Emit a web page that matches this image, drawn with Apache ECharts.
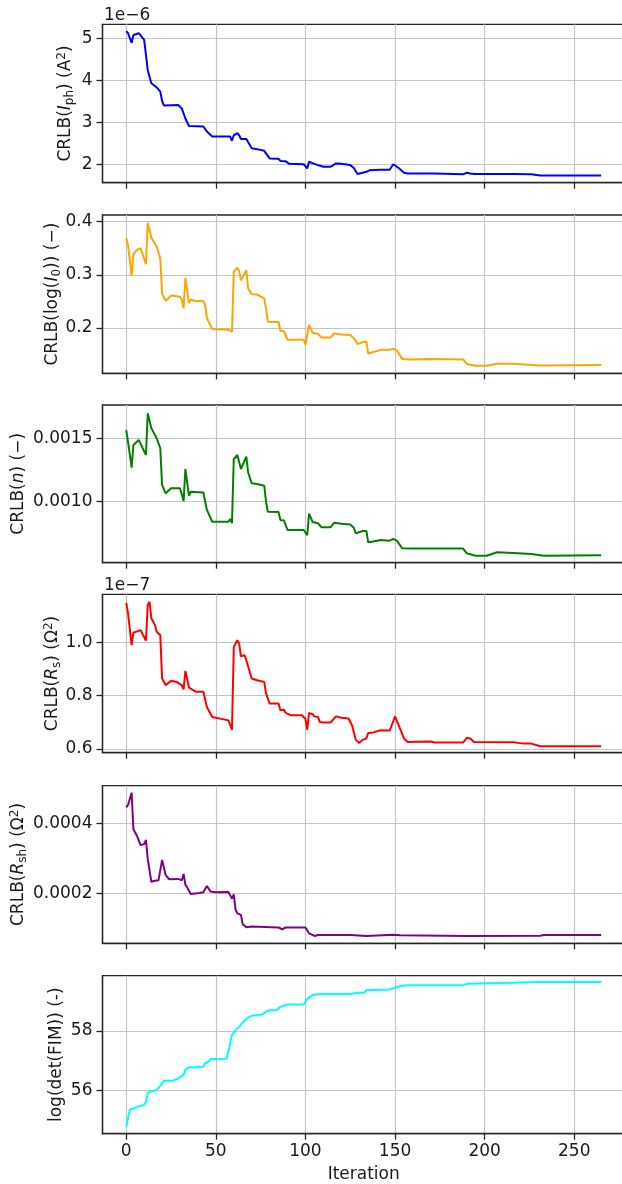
<!DOCTYPE html>
<html>
<head>
<meta charset="utf-8">
<script src="https://cdn.jsdelivr.net/npm/echarts@6/dist/echarts.min.js"></script>
<style>
  html, body { margin: 0; padding: 0; background: #ffffff; }
  #chart { width: 622px; height: 1184px; }
</style>
</head>
<body>
<div id="chart"></div>
<script>
// Shared iteration axis
const iterTicks = [0, 50, 100, 150, 200, 250];
const iterRange = [-13.25, 278.25];

// CRLB(I_ph), plotted in units of 1e-6 A^2
const iphIter = [0, 1, 3, 4, 7, 8, 10, 12, 14, 17, 19, 20, 21, 29, 31, 33, 35, 43, 45, 48, 58, 59, 60, 61, 62, 63, 64, 67, 70, 73, 77, 80, 85, 86, 89, 91, 99, 101, 102, 105, 107, 110, 114, 117, 120, 125, 127, 129, 132, 134, 136, 142, 147, 149, 150, 152, 155, 157, 172, 188, 190, 192, 194, 216, 226, 231, 265];
const iphCrlb = [5.18, 5.13, 4.90, 5.09, 5.13, 5.11, 4.97, 4.25, 3.94, 3.84, 3.74, 3.52, 3.41, 3.42, 3.34, 3.10, 2.92, 2.91, 2.79, 2.67, 2.67, 2.57, 2.70, 2.71, 2.75, 2.70, 2.61, 2.61, 2.39, 2.37, 2.33, 2.15, 2.14, 2.09, 2.08, 2.02, 2.01, 1.91, 2.07, 2.02, 1.99, 1.95, 1.95, 2.03, 2.02, 1.99, 1.92, 1.78, 1.81, 1.83, 1.87, 1.88, 1.88, 2.01, 2.03, 1.92, 1.81, 1.79, 1.79, 1.77, 1.81, 1.79, 1.78, 1.78, 1.77, 1.74, 1.74];
const iphTicks = [2, 3, 4, 5];
const iphRange = [1.571, 5.343];

// CRLB(log(I_0))
const logI0Iter = [0, 1, 3, 4, 5, 6, 8, 11, 12, 13, 14, 17, 19, 20, 21, 22, 25, 30, 31, 32, 33, 35, 36, 38, 43, 44, 45, 46, 48, 57, 58, 59, 60, 61, 62, 63, 64, 65, 67, 68, 70, 73, 77, 78, 79, 85, 86, 88, 90, 99, 100, 102, 103, 104, 107, 109, 114, 116, 120, 125, 127, 129, 132, 134, 135, 137, 142, 147, 149, 151, 154, 159, 170, 188, 190, 195, 201, 207, 216, 231, 265];
const logI0Crlb = [0.369, 0.356, 0.298, 0.339, 0.341, 0.347, 0.350, 0.320, 0.398, 0.398, 0.370, 0.353, 0.331, 0.265, 0.263, 0.251, 0.261, 0.259, 0.253, 0.237, 0.294, 0.247, 0.254, 0.251, 0.251, 0.243, 0.219, 0.218, 0.198, 0.197, 0.199, 0.193, 0.306, 0.307, 0.3135, 0.307, 0.290, 0.296, 0.309, 0.275, 0.2635, 0.263, 0.256, 0.237, 0.212, 0.2115, 0.195, 0.194, 0.178, 0.178, 0.169, 0.206, 0.205, 0.191, 0.189, 0.182, 0.182, 0.190, 0.188, 0.187, 0.181, 0.170, 0.1735, 0.1745, 0.152, 0.154, 0.159, 0.159, 0.161, 0.158, 0.142, 0.141, 0.142, 0.141, 0.1325, 0.129, 0.129, 0.133, 0.133, 0.1295, 0.1305];
const logI0Ticks = [0.2, 0.3, 0.4];
const logI0Range = [0.1149, 0.4126];

// CRLB(n)
const nIter = [0, 1, 3, 4, 5, 7, 8, 11, 12, 13, 14, 17, 19, 20, 21, 22, 25, 30, 31, 32, 33, 35, 36, 43, 45, 46, 48, 57, 58, 59, 60, 61, 62, 64, 67, 68, 70, 73, 77, 78, 79, 85, 86, 88, 90, 99, 100, 101, 102, 103, 104, 107, 109, 114, 116, 120, 125, 127, 128, 132, 134, 135, 137, 142, 147, 149, 151, 154, 159, 188, 190, 195, 201, 207, 216, 226, 233, 265];
const nCrlb = [0.001565, 0.001473, 0.001268, 0.001447, 0.001452, 0.001487, 0.001490, 0.001368, 0.001697, 0.001697, 0.001579, 0.001500, 0.001421, 0.001132, 0.001128, 0.001066, 0.001106, 0.001106, 0.001058, 0.001005, 0.001258, 0.001047, 0.001079, 0.001073, 0.000935, 0.000928, 0.000842, 0.000842, 0.000864, 0.000831, 0.001337, 0.001337, 0.001368, 0.001258, 0.001355, 0.001232, 0.001145, 0.001140, 0.001126, 0.001000, 0.000921, 0.000918, 0.000856, 0.000852, 0.000777, 0.000777, 0.000770, 0.000737, 0.000906, 0.000902, 0.000840, 0.000830, 0.000798, 0.000798, 0.000834, 0.000826, 0.000821, 0.000795, 0.000751, 0.000769, 0.000769, 0.000680, 0.000685, 0.000698, 0.000693, 0.000706, 0.000693, 0.000632, 0.000630, 0.000630, 0.000593, 0.000574, 0.000574, 0.000601, 0.000596, 0.000588, 0.000574, 0.000577];
const nTicks = [0.0010, 0.0015];
const nRange = [0.000519, 0.0017626];

// CRLB(R_s), plotted in units of 1e-7 Ohm^2
const rsIter = [0, 1, 3, 4, 5, 8, 11, 12, 13, 14, 16, 17, 19, 20, 21, 22, 25, 28, 31, 32, 33, 35, 36, 39, 43, 45, 46, 48, 57, 58, 59, 60, 61, 62, 63, 64, 66, 67, 70, 71, 73, 77, 78, 80, 85, 86, 88, 89, 92, 98, 100, 101, 102, 104, 105, 107, 108, 110, 114, 117, 120, 124, 126, 128, 130, 132, 134, 135, 138, 142, 147, 148, 150, 152, 155, 157, 170, 172, 188, 190, 192, 194, 216, 222, 226, 231, 265];
const rsCrlb = [1.147, 1.108, 0.989, 1.035, 1.035, 1.045, 1.005, 1.139, 1.151, 1.089, 1.064, 1.039, 1.026, 0.864, 0.860, 0.839, 0.855, 0.851, 0.839, 0.823, 0.892, 0.830, 0.833, 0.814, 0.814, 0.757, 0.754, 0.720, 0.707, 0.703, 0.672, 0.980, 0.995, 1.0075, 0.995, 0.947, 0.951, 0.932, 0.864, 0.868, 0.857, 0.851, 0.808, 0.770, 0.770, 0.745, 0.747, 0.735, 0.726, 0.726, 0.712, 0.672, 0.735, 0.730, 0.722, 0.720, 0.701, 0.699, 0.699, 0.722, 0.717, 0.714, 0.689, 0.635, 0.622, 0.635, 0.639, 0.660, 0.662, 0.670, 0.669, 0.672, 0.722, 0.689, 0.639, 0.626, 0.628, 0.624, 0.624, 0.642, 0.639, 0.626, 0.625, 0.620, 0.620, 0.610, 0.610];
const rsTicks = [0.6, 0.8, 1.0];
const rsRange = [0.586, 1.179];

// CRLB(R_sh)
const rshIter = [0, 1, 3, 4, 5, 6, 8, 10, 11, 12, 14, 16, 18, 19, 20, 21, 22, 24, 29, 30, 31, 32, 33, 34, 36, 41, 43, 45, 46, 47, 50, 57, 58, 59, 60, 61, 62, 64, 65, 67, 70, 71, 85, 87, 89, 100, 101, 102, 105, 107, 125, 134, 149, 153, 190, 231, 233, 265];
const rshCrlb = [0.0004455, 0.000452, 0.000487, 0.000383, 0.000378, 0.000364, 0.000338, 0.000341, 0.000353, 0.000298, 0.000234, 0.000237, 0.000238, 0.000267, 0.000296, 0.000293, 0.000253, 0.000241, 0.000242, 0.000247, 0.000238, 0.000256, 0.000225, 0.000218, 0.000199, 0.000202, 0.000204, 0.000222, 0.000221, 0.000206, 0.000204, 0.000205, 0.000207, 0.000186, 0.000198, 0.000155, 0.000144, 0.000140, 0.000113, 0.000105, 0.000107, 0.000104, 0.000104, 0.000099, 0.000104, 0.000104, 0.000103, 0.0000875, 0.000080, 0.0000827, 0.0000827, 0.000080, 0.0000835, 0.000082, 0.000080, 0.0000808, 0.0000827, 0.0000827];
const rshTicks = [0.0002, 0.0004];
const rshRange = [0.0000591, 0.0005068];

// log(det(FIM))
const fimIter = [0, 1, 2, 4, 6, 8, 10, 11, 12, 14, 17, 19, 20, 21, 26, 29, 32, 33, 35, 43, 44, 46, 47, 56, 57, 58, 59, 61, 63, 65, 66, 68, 70, 76, 78, 80, 84, 86, 90, 99, 100, 101, 104, 107, 110, 125, 129, 133, 134, 147, 150, 153, 157, 188, 190, 201, 216, 231, 265];
const fimLogDet = [54.79, 54.85, 55.37, 55.40, 55.46, 55.49, 55.52, 55.63, 55.93, 55.98, 56.02, 56.16, 56.22, 56.33, 56.33, 56.41, 56.52, 56.69, 56.78, 56.80, 56.92, 56.97, 57.06, 57.07, 57.11, 57.59, 57.87, 58.03, 58.14, 58.28, 58.35, 58.45, 58.51, 58.55, 58.65, 58.70, 58.70, 58.81, 58.89, 58.90, 58.98, 59.07, 59.21, 59.23, 59.24, 59.24, 59.28, 59.29, 59.37, 59.39, 59.45, 59.51, 59.53, 59.53, 59.58, 59.60, 59.62, 59.64, 59.64];
const fimTicks = [56, 58];
const fimRange = [54.558, 59.854];

// Panel descriptions
const FONT = 'DejaVu Sans';
const INK = '#1a1a1a';
const panels = [
  { x: iphIter, y: iphCrlb, ticks: iphTicks, range: iphRange, digits: 0, color: '#0000ff',
    name: '{b|CRLB(}{i|I}{s|ph}{b|) (A}{p|2}{b|)}', gap: 27, exponent: '1e\u22126' },
  { x: logI0Iter, y: logI0Crlb, ticks: logI0Ticks, range: logI0Range, digits: 1, color: '#ffa500',
    name: '{b|CRLB(log(}{i|I}{s|0}{b|)) (\u2212)}', gap: 40 },
  { x: nIter, y: nCrlb, ticks: nTicks, range: nRange, digits: 4, color: '#008000',
    name: '{b|CRLB(}{i|n}{b|) (\u2212)}', gap: 74 },
  { x: rsIter, y: rsCrlb, ticks: rsTicks, range: rsRange, digits: 1, color: '#ff0000',
    name: '{b|CRLB(}{i|R}{s|s}{b|) (\u03A9}{p|2}{b|)}', gap: 40, exponent: '1e\u22127' },
  { x: rshIter, y: rshCrlb, ticks: rshTicks, range: rshRange, digits: 4, color: '#800080',
    name: '{b|CRLB(}{i|R}{s|sh}{b|) (\u03A9}{p|2}{b|)}', gap: 74 },
  { x: fimIter, y: fimLogDet, ticks: fimTicks, range: fimRange, digits: 0, color: '#00ffff',
    name: '{b|log(det(FIM)) (-)}', gap: 36 }
];

// Plot-area frames, in pixels
const frameLeft = 102.5;
const frameRight = -2.9;
const frameTops = [24.3, 215, 405, 594.3, 785.7, 975.7];
const frameHeights = [158.4, 158.3, 157.7, 158.4, 157.6, 158];

const richName = {
  b: { fontFamily: FONT, fontSize: 17, color: INK, lineHeight: 20 },
  i: { fontFamily: FONT, fontSize: 17, color: INK, fontStyle: 'italic', lineHeight: 20 },
  s: { fontFamily: FONT, fontSize: 12, color: INK, verticalAlign: 'bottom', lineHeight: 10 },
  p: { fontFamily: FONT, fontSize: 12, color: INK, verticalAlign: 'top', lineHeight: 10 }
};

const AXIS_INK = '#262626';
const GRID_INK = '#c4c4c4';
const last = panels.length - 1;
const grid = [], xAxis = [], yAxis = [], series = [], graphic = [];

panels.forEach((p, k) => {
  grid.push({
    left: frameLeft, right: frameRight, top: frameTops[k], height: frameHeights[k],
    containLabel: false, outerBoundsMode: 'none',
    show: true, borderColor: AXIS_INK, borderWidth: 1.3, backgroundColor: 'transparent'
  });
  xAxis.push({
    type: 'value', gridIndex: k, position: 'bottom', min: iterRange[0], max: iterRange[1],
    axisLine: { show: true, onZero: false, lineStyle: { color: AXIS_INK, width: 1.3 } },
    axisTick: { show: true, length: 6, customValues: iterTicks, lineStyle: { color: AXIS_INK, width: 1.3 } },
    axisLabel: {
      show: k === last, customValues: iterTicks, margin: 9,
      fontFamily: FONT, fontSize: 17, color: INK, formatter: v => String(v)
    },
    splitLine: { show: true, lineStyle: { color: GRID_INK, width: 1.2 } },
    name: k === last ? 'Iteration' : '',
    nameLocation: 'middle', nameGap: 32, nameMoveOverlap: false,
    nameTextStyle: { fontFamily: FONT, fontSize: 17, color: INK }
  });
  yAxis.push({
    type: 'value', gridIndex: k, position: 'left', min: p.range[0], max: p.range[1],
    axisLine: { show: true, onZero: false, lineStyle: { color: AXIS_INK, width: 1.3 } },
    axisTick: { show: true, length: 6, customValues: p.ticks, lineStyle: { color: AXIS_INK, width: 1.3 } },
    axisLabel: {
      customValues: p.ticks, margin: 10,
      fontFamily: FONT, fontSize: 17, color: INK, formatter: v => v.toFixed(p.digits)
    },
    splitLine: { show: true, lineStyle: { color: GRID_INK, width: 1.2 } },
    name: p.name, nameLocation: 'middle', nameGap: p.gap, nameMoveOverlap: false,
    nameTextStyle: { fontFamily: FONT, fontSize: 17, color: INK, rich: richName }
  });
  series.push({
    type: 'line', xAxisIndex: k, yAxisIndex: k,
    data: p.x.map((it, j) => [it, p.y[j]]),
    showSymbol: false, symbol: 'none', smooth: false, clip: true,
    lineStyle: { color: p.color, width: 2 }, z: 5
  });
  if (p.exponent) {
    graphic.push({
      type: 'text', left: 104, top: frameTops[k] - 17,
      style: { text: p.exponent, font: '17px "' + FONT + '"', fill: INK }
    });
  }
});

const chart = echarts.init(document.getElementById('chart'), null, { renderer: 'canvas' });
chart.setOption({
  animation: false,
  backgroundColor: '#ffffff',
  grid, xAxis, yAxis, series, graphic
});
</script>
</body>
</html>
